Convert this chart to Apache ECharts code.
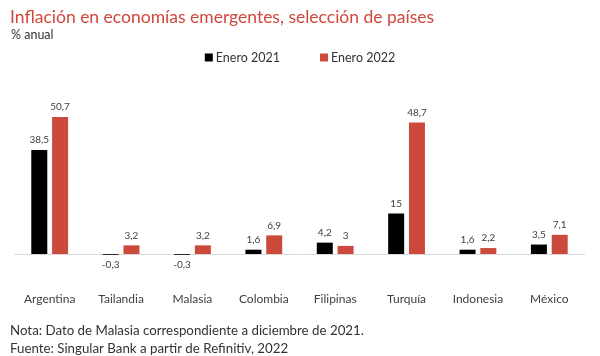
<!DOCTYPE html>
<html><head><meta charset="utf-8">
<script src="https://cdn.jsdelivr.net/npm/echarts@6/dist/echarts.min.js"></script>
<style>html,body{margin:0;padding:0;background:#fff}#c{width:600px;height:356px}</style>
</head><body><div id="c"></div>
<script>
const categories = ['Argentina','Tailandia','Malasia','Colombia','Filipinas','Turquía','Indonesia','México'];
const enero2021 = [38.5, -0.3, -0.3, 1.6, 4.2, 15, 1.6, 3.5];
const enero2022 = [50.7, 3.2, 3.2, 6.9, 3, 48.7, 2.2, 7.1];
const seriesNames = ['Enero 2021', 'Enero 2022'];

const FONT = 'Lato, "Open Sans", sans-serif';
const fmt = v => String(v).replace('.', ',');
const toData = arr => arr.map(v => ({
  value: v,
  label: { position: v < 0 ? 'bottom' : 'top' }
}));

const chart = echarts.init(document.getElementById('c'));
chart.setOption({
  animation: false,
  textStyle: { fontFamily: FONT },
  title: [
    { text: 'Inflación en economías emergentes, selección de países', left: 5, top: 3,
      textStyle: { color: '#d0473b', fontSize: 17.5, fontWeight: 'normal', fontFamily: FONT } },
    { text: '% anual', left: 6, top: 23,
      textStyle: { color: '#333', fontSize: 12.5, fontWeight: 'normal', fontFamily: FONT } },
    { text: 'Nota: Dato de Malasia correspondiente a diciembre de 2021.\nFuente: Singular Bank a partir de Refinitiv, 2022',
      left: 5, top: 317,
      textStyle: { color: '#333', fontSize: 13.3, fontWeight: 'normal', lineHeight: 18, fontFamily: FONT } }
  ],
  legend: {
    top: 46, left: 'center', itemGap: 40, itemWidth: 8, itemHeight: 8, icon: 'rect',
    textStyle: { color: '#333', fontSize: 12.5, fontFamily: FONT, padding: [0, 0, 0, -2] },
    data: seriesNames
  },
  grid: { left: 14, right: 15, top: 92, bottom: 75, containLabel: false },
  xAxis: {
    type: 'category', data: categories,
    axisLine: { show: false }, axisTick: { show: false },
    axisLabel: { color: '#404040', fontSize: 12, margin: 12, fontFamily: FONT }
  },
  yAxis: {
    type: 'value', min: -10, max: 60, show: false, splitLine: { show: false }
  },
  series: [
    { name: seriesNames[0], type: 'bar', data: toData(enero2021), barWidth: 16, barGap: '30%', z: 3,
      itemStyle: { color: '#000000' },
      label: { show: true, color: '#404040', fontSize: 10, distance: 5, formatter: p => fmt(p.value), fontFamily: FONT },
      markLine: { silent: true, symbol: 'none', label: { show: false }, z: 1,
        lineStyle: { color: '#d9d9d9', type: 'solid', width: 1 }, data: [{ yAxis: 0 }] } },
    { name: seriesNames[1], type: 'bar', data: toData(enero2022), barWidth: 16, barGap: '30%', z: 3,
      itemStyle: { color: '#cc4a3c' },
      label: { show: true, color: '#404040', fontSize: 10, distance: 5, formatter: p => fmt(p.value), fontFamily: FONT } }
  ]
});
</script></body></html>
